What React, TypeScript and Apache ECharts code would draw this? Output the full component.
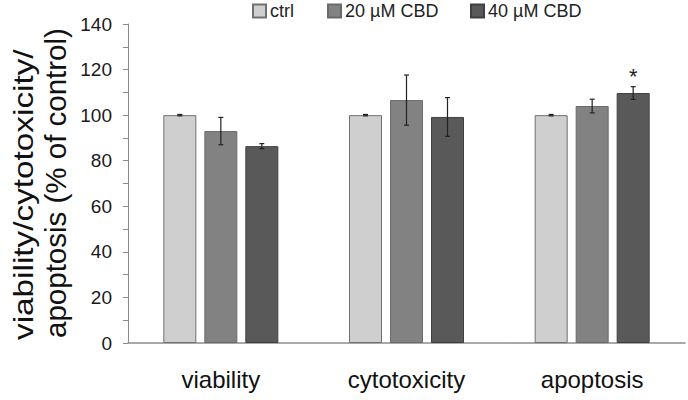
import React, { useEffect, useRef } from "react";
import * as echarts from "echarts";

const categories = ["viability", "cytotoxicity", "apoptosis"];
const seriesNames = ["ctrl", "20 µM CBD", "40 µM CBD"];
const ctrlValues = [100, 100, 100];
const ctrlErrors = [0.3, 0.3, 0.3];
const cbd20Values = [93, 106.6, 104];
const cbd20Errors = [6, 11, 3];
const cbd40Values = [86.4, 99.2, 109.7];
const cbd40Errors = [1.1, 8.5, 2.8];
const cbd40Significance = ["", "", "*"];
const yTicks = [0, 20, 40, 60, 80, 100, 120, 140];
const yNameLines = ["viability/cytotoxicity/", "apoptosis (% of control)"];

const colors = ["#cfcfcf", "#828282", "#595959"];
const borders = ["#707070", "#6a6a6a", "#404040"];
const legendLefts = [252, 327, 470];

const BAR_W = 33;
const BAR_GAP = 8;

export default function App() {
  const ref = useRef<HTMLDivElement>(null);
  useEffect(() => {
    if (!ref.current) return;
    const chart = echarts.init(ref.current, null, { renderer: "svg" });
    const values = [ctrlValues, cbd20Values, cbd40Values];
    const errors = [ctrlErrors, cbd20Errors, cbd40Errors];
    const font = "Liberation Sans, Arial, sans-serif";

    const barSeries = seriesNames.map((name, i) => ({
      name,
      type: "bar",
      data: values[i],
      barWidth: BAR_W,
      barGap: (BAR_GAP / BAR_W) * 100 + "%",
      itemStyle: { color: colors[i], borderColor: borders[i], borderWidth: 1 },
      z: 2,
    }));

    const errSeries = seriesNames.map((name, i) => ({
      type: "custom",
      name: name + "-err",
      data: values[i].map((v, j) => [j, v, errors[i][j], i === 2 ? cbd40Significance[j] : ""]),
      z: 5,
      silent: true,
      renderItem: (params: any, api: any) => {
        const xi = api.value(0);
        const v = api.value(1);
        const e = api.value(2);
        const sig = api.value(3);
        const offset = (i - 1) * (BAR_W + BAR_GAP);
        const top = api.coord([xi, v + e]);
        const bot = api.coord([xi, v - e]);
        const x = top[0] + offset;
        const cap = 2.5;
        const st = { stroke: "#222", lineWidth: 1.2 };
        const children: any[] = [
          { type: "line", shape: { x1: x, y1: top[1], x2: x, y2: bot[1] }, style: st },
          { type: "line", shape: { x1: x - cap, y1: top[1], x2: x + cap, y2: top[1] }, style: st },
          { type: "line", shape: { x1: x - cap, y1: bot[1], x2: x + cap, y2: bot[1] }, style: st },
        ];
        if (sig) {
          children.push({
            type: "text",
            x,
            y: top[1] + 1,
            style: { text: String(sig), fontSize: 22, fontFamily: font, fill: "#222", align: "center", verticalAlign: "bottom" },
          });
        }
        return { type: "group", children };
      },
    }));

    chart.setOption({
      animation: false,
      legend: seriesNames.map((name, i) => ({
        data: [name],
        left: legendLefts[i],
        top: 2,
        padding: 0,
        itemWidth: 13,
        itemHeight: 13,
        icon: "rect",
        textStyle: { fontSize: 18, fontFamily: font, color: "#222", padding: [0, 0, 0, -1] },
      })),
      graphic: [
        {
          type: "text",
          x: 23,
          y: 340,
          rotation: Math.PI / 2,
          scaleX: 1.19,
          style: { text: yNameLines[0], fontSize: 28, fontFamily: font, fill: "#111", align: "left", verticalAlign: "middle" },
        },
        {
          type: "text",
          x: 55,
          y: 338,
          rotation: Math.PI / 2,
          style: { text: yNameLines[1], fontSize: 29.5, fontFamily: font, fill: "#111", align: "left", verticalAlign: "middle" },
        },
      ],
      grid: { left: 128, right: 3, top: 24, bottom: 57, containLabel: false },
      xAxis: {
        type: "category",
        data: categories,
        axisLine: { lineStyle: { color: "#8c8c8c", width: 1.5 } },
        axisTick: { show: false },
        axisLabel: { fontSize: 24, fontFamily: font, color: "#111", margin: 24 },
      },
      yAxis: {
        type: "value",
        min: yTicks[0],
        max: yTicks[yTicks.length - 1],
        interval: 20,
        axisLine: { show: true, lineStyle: { color: "#8c8c8c" } },
        axisTick: { show: true, inside: false, length: 5, lineStyle: { color: "#8c8c8c" } },
        minorTick: { show: true, splitNumber: 2, length: 5, lineStyle: { color: "#8c8c8c" } },
        splitLine: { show: false },
        axisLabel: { fontSize: 19, fontFamily: font, color: "#1a1a1a", margin: 16 },
      },
      series: [...barSeries, ...errSeries],
    });
    return () => chart.dispose();
  }, []);
  return <div ref={ref} style={{ width: 688, height: 400, position: "absolute", left: 0, top: 0 }} />;
}
